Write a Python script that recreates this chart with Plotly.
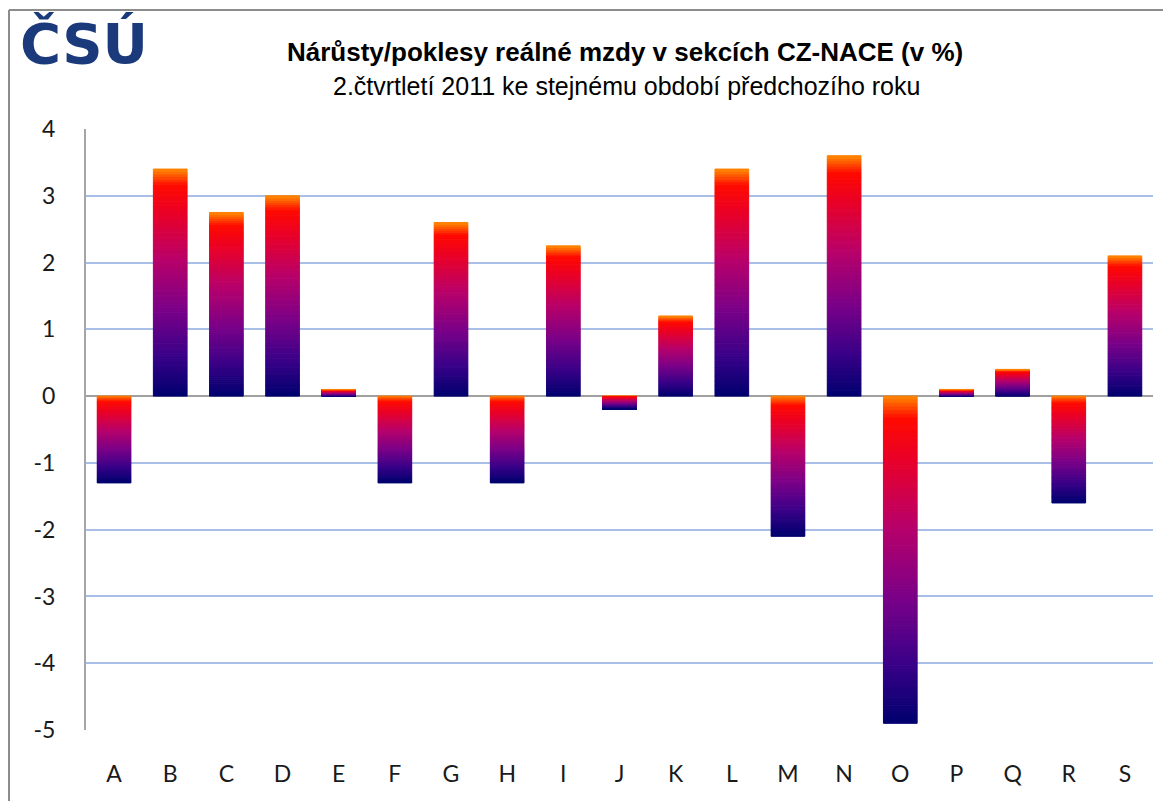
import plotly.graph_objects as go
from plotly.colors import sample_colorscale

# ---- data ----
categories = ["A", "B", "C", "D", "E", "F", "G", "H", "I", "J",
              "K", "L", "M", "N", "O", "P", "Q", "R", "S"]
values = [-1.3, 3.4, 2.75, 3.0, 0.1, -1.3, 2.6, -1.3, 2.25, -0.2,
          1.2, 3.4, -2.1, 3.6, -4.9, 0.1, 0.4, -1.6, 2.1]
y_ticks = [4, 3, 2, 1, 0, -1, -2, -3, -4, -5]

title = "Nárůsty/poklesy reálné mzdy v sekcích CZ-NACE (v %)"
subtitle = "2.čtvrtletí 2011 ke stejnému období předchozího roku"

# ---- layout geometry (page has an 8px body margin) ----
OFF = 8
W, H = 1171 - 2 * OFF, 809 - 2 * OFF
PL, PR, PT, PB = 86, 1153, 129, 730   # plot area in window pixels
L, T = PL - OFF, PT - OFF
R, B = W - (PR - OFF), H - (PB - OFF)
PW, PH = W - L - R, H - T - B


def px2x(p):
    return (p - OFF - L) / PW


def px2y(p):
    return (H - B - (p - OFF)) / PH


# gradient: t=0 at top of bar, t=1 at bottom of bar
grad = [[0.0, "#FF8A00"], [0.07, "#FF0A00"], [0.2, "#E8002A"],
        [0.4, "#B8006A"], [0.62, "#7A0088"], [0.82, "#3A0088"],
        [1.0, "#00006E"]]

N = 90
fig = go.Figure()
for k in range(N):
    ys, ts = [], []
    for v in values:
        ys.append(v / N)
        ts.append(1 - (k + 0.5) / N if v >= 0 else (k + 0.5) / N)
    colors = sample_colorscale(grad, ts)
    fig.add_trace(go.Bar(
        x=categories, y=ys,
        marker=dict(color=colors, line=dict(width=1, color=colors)),
        showlegend=False, hoverinfo="skip",
    ))

tick_font = dict(size=23, family="Lato, Open Sans, sans-serif", color="#1a1a1a")
frame = dict(color="#8C8C8C", width=2)

fig.update_layout(
    width=W, height=H,
    margin=dict(l=L, r=R, t=T, b=B),
    barmode="relative", bargap=0.4,
    paper_bgcolor="white", plot_bgcolor="white",
    font=dict(family="Lato, Open Sans, sans-serif", color="#1a1a1a"),
    xaxis=dict(
        type="category", showgrid=False, showline=False, ticks="",
        tickfont=tick_font, ticklabelstandoff=28,
    ),
    yaxis=dict(
        range=[-5, 4], tickvals=y_ticks, ticktext=[str(v) for v in y_ticks],
        showgrid=True, gridcolor="#A9BFE8", gridwidth=2,
        zeroline=True, zerolinecolor="#A0A0A0", zerolinewidth=2,
        showline=True, linecolor="#A6A6A6", linewidth=2,
        ticks="", tickfont=tick_font, ticklabelstandoff=24,
    ),
    shapes=[
        dict(type="line", xref="paper", yref="paper",
             x0=px2x(9), y0=px2y(10), x1=px2x(1175), y1=px2y(10), line=frame),
        dict(type="line", xref="paper", yref="paper",
             x0=px2x(9), y0=px2y(10), x1=px2x(9), y1=px2y(815), line=frame),
    ],
    annotations=[
        dict(text="<b>" + title + "</b>", xref="paper", yref="paper",
             x=px2x(625), y=px2y(52), xanchor="center", yanchor="middle",
             showarrow=False,
             font=dict(family="Liberation Sans, Arial, sans-serif", size=26, color="#000000")),
        dict(text=subtitle, xref="paper", yref="paper",
             x=px2x(626), y=px2y(86), xanchor="center", yanchor="middle",
             showarrow=False,
             font=dict(family="Liberation Sans, Arial, sans-serif", size=25, color="#000000")),
        dict(text="<b>ČSÚ</b>", xref="paper", yref="paper",
             x=px2x(18), y=px2y(44), xanchor="left", yanchor="middle",
             showarrow=False,
             font=dict(family="DejaVu Sans, sans-serif", size=56, color="#1B3A7C")),
    ],
)

fig.write_html("out.html")
